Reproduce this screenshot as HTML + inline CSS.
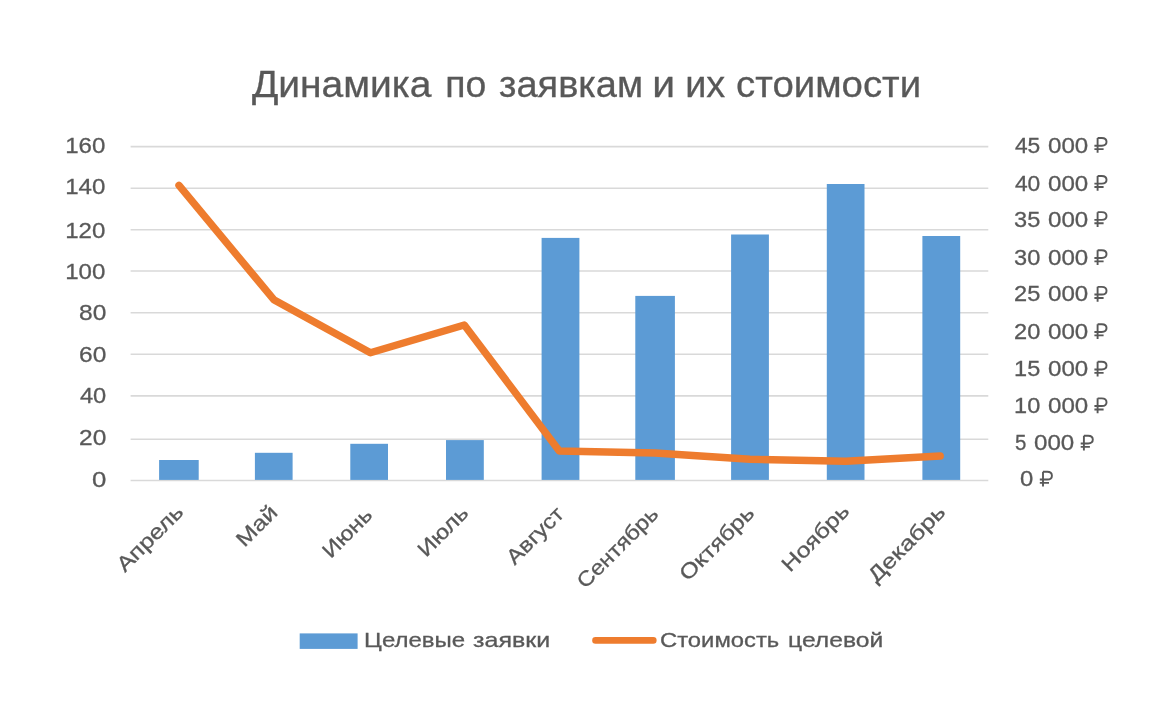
<!DOCTYPE html>
<html lang="ru"><head><meta charset="utf-8"><title>Динамика по заявкам и их стоимости</title>
<style>html,body{margin:0;padding:0;background:#fff}body{width:1176px;height:708px;overflow:hidden}svg{display:block}text{font-family:"Liberation Sans",sans-serif;fill:#595959;stroke:#595959;stroke-width:.3px;white-space:pre}</style></head><body>
<svg width="1176" height="708" viewBox="0 0 1176 708">
<defs><filter id="soft" x="0" y="0" width="1176" height="708" filterUnits="userSpaceOnUse"><feGaussianBlur stdDeviation="0.45"/></filter></defs>
<rect width="1176" height="708" fill="#fff"/>
<g filter="url(#soft)">
<g id="grid" stroke="#d9d9d9" stroke-width="1.6">
<line x1="130.6" y1="480.5" x2="988.3" y2="480.5"/>
<line x1="130.6" y1="439.2" x2="988.3" y2="439.2"/>
<line x1="130.6" y1="395.9" x2="988.3" y2="395.9"/>
<line x1="130.6" y1="354.2" x2="988.3" y2="354.2"/>
<line x1="130.6" y1="312.7" x2="988.3" y2="312.7"/>
<line x1="130.6" y1="271.0" x2="988.3" y2="271.0"/>
<line x1="130.6" y1="229.8" x2="988.3" y2="229.8"/>
<line x1="130.6" y1="188.3" x2="988.3" y2="188.3"/>
<line x1="130.6" y1="146.6" x2="988.3" y2="146.6"/>
</g>
<g id="bars" fill="#5b9bd5">
<rect x="159.1" y="460.0" width="39.6" height="19.9"/>
<rect x="254.9" y="452.8" width="37.7" height="27.1"/>
<rect x="350.3" y="443.8" width="37.7" height="36.1"/>
<rect x="446.0" y="440.1" width="37.8" height="39.8"/>
<rect x="541.6" y="237.9" width="37.8" height="242.0"/>
<rect x="635.3" y="295.9" width="39.6" height="184.0"/>
<rect x="731.1" y="234.5" width="37.8" height="245.4"/>
<rect x="826.8" y="184.0" width="37.7" height="295.9"/>
<rect x="922.4" y="236.0" width="37.8" height="243.9"/>
</g>
<polyline id="line" fill="none" stroke="#ee7c2e" stroke-width="7.4" stroke-linecap="round" stroke-linejoin="round" points="179,185.4 273.8,299.7 370.4,352.7 464.3,325 559.3,451 655,453 750,459.3 845.6,461.3 940.2,456"/>
<g id="labels">
<text x="251.91" y="96.90" font-size="36.6" textLength="179.45" lengthAdjust="spacingAndGlyphs">Динамика</text>
<text x="445.20" y="96.90" font-size="36.6" textLength="41.01" lengthAdjust="spacingAndGlyphs">по</text>
<text x="499.01" y="96.90" font-size="36.6" textLength="144.07" lengthAdjust="spacingAndGlyphs">заявкам</text>
<text x="652.26" y="96.90" font-size="36.6" textLength="22.79" lengthAdjust="spacingAndGlyphs">и</text>
<text x="685.23" y="96.90" font-size="36.6" textLength="40.06" lengthAdjust="spacingAndGlyphs">их</text>
<text x="736.09" y="96.90" font-size="36.6" textLength="185.01" lengthAdjust="spacingAndGlyphs">стоимости</text>
<text x="364.14" y="647.40" font-size="20.4" textLength="101.11" lengthAdjust="spacingAndGlyphs">Целевые</text>
<text x="473.04" y="647.40" font-size="20.4" textLength="77.13" lengthAdjust="spacingAndGlyphs">заявки</text>
<text x="660.01" y="647.30" font-size="20.4" textLength="119.27" lengthAdjust="spacingAndGlyphs">Стоимость</text>
<text x="788.07" y="647.30" font-size="20.4" textLength="95.18" lengthAdjust="spacingAndGlyphs">целевой</text>
<text x="91.94" y="486.95" font-size="22" textLength="14.36" lengthAdjust="spacingAndGlyphs">0</text>
<text x="79.02" y="445.35" font-size="22" textLength="27.26" lengthAdjust="spacingAndGlyphs">20</text>
<text x="79.92" y="403.40" font-size="22" textLength="26.36" lengthAdjust="spacingAndGlyphs">40</text>
<text x="79.02" y="361.95" font-size="22" textLength="27.26" lengthAdjust="spacingAndGlyphs">60</text>
<text x="79.02" y="320.45" font-size="22" textLength="27.26" lengthAdjust="spacingAndGlyphs">80</text>
<text x="65.15" y="278.95" font-size="22" textLength="40.15" lengthAdjust="spacingAndGlyphs">100</text>
<text x="65.15" y="237.70" font-size="22" textLength="40.15" lengthAdjust="spacingAndGlyphs">120</text>
<text x="65.15" y="194.05" font-size="22" textLength="40.15" lengthAdjust="spacingAndGlyphs">140</text>
<text x="65.15" y="152.70" font-size="22" textLength="40.15" lengthAdjust="spacingAndGlyphs">160</text>
<text x="1019.95" y="486.40" font-size="22" textLength="13.28" lengthAdjust="spacingAndGlyphs">0</text>
<text x="1014.90" y="450.35" font-size="22" textLength="11.36" lengthAdjust="spacingAndGlyphs">5</text>
<text x="1034.02" y="450.35" font-size="22" textLength="40.26" lengthAdjust="spacingAndGlyphs">000</text>
<text x="1014.12" y="412.95" font-size="22" textLength="26.16" lengthAdjust="spacingAndGlyphs">10</text>
<text x="1048.04" y="412.95" font-size="22" textLength="40.24" lengthAdjust="spacingAndGlyphs">000</text>
<text x="1014.12" y="376.35" font-size="22" textLength="26.16" lengthAdjust="spacingAndGlyphs">15</text>
<text x="1048.04" y="376.35" font-size="22" textLength="40.24" lengthAdjust="spacingAndGlyphs">000</text>
<text x="1014.02" y="338.85" font-size="22" textLength="26.26" lengthAdjust="spacingAndGlyphs">20</text>
<text x="1048.04" y="338.85" font-size="22" textLength="40.24" lengthAdjust="spacingAndGlyphs">000</text>
<text x="1014.02" y="301.45" font-size="22" textLength="26.26" lengthAdjust="spacingAndGlyphs">25</text>
<text x="1048.04" y="301.45" font-size="22" textLength="40.24" lengthAdjust="spacingAndGlyphs">000</text>
<text x="1014.02" y="264.85" font-size="22" textLength="26.26" lengthAdjust="spacingAndGlyphs">30</text>
<text x="1048.04" y="264.85" font-size="22" textLength="40.24" lengthAdjust="spacingAndGlyphs">000</text>
<text x="1014.02" y="226.75" font-size="22" textLength="26.26" lengthAdjust="spacingAndGlyphs">35</text>
<text x="1048.04" y="226.75" font-size="22" textLength="40.24" lengthAdjust="spacingAndGlyphs">000</text>
<text x="1014.92" y="190.55" font-size="22" textLength="25.36" lengthAdjust="spacingAndGlyphs">40</text>
<text x="1048.04" y="190.55" font-size="22" textLength="40.24" lengthAdjust="spacingAndGlyphs">000</text>
<text x="1014.92" y="152.60" font-size="22" textLength="25.36" lengthAdjust="spacingAndGlyphs">45</text>
<text x="1048.04" y="152.60" font-size="22" textLength="40.24" lengthAdjust="spacingAndGlyphs">000</text>
<path transform="translate(1039.80,470.90)" fill="none" stroke="#595959" stroke-width="1.9" d="M3.2 0.9V15.7M3.2 0.9H7.4C13.7 0.9 13.7 8.6 7.4 8.6H0M0 12H9.2"/>
<path transform="translate(1080.70,434.85)" fill="none" stroke="#595959" stroke-width="1.9" d="M3.2 0.9V15.7M3.2 0.9H7.4C13.7 0.9 13.7 8.6 7.4 8.6H0M0 12H9.2"/>
<path transform="translate(1094.40,397.45)" fill="none" stroke="#595959" stroke-width="1.9" d="M3.2 0.9V15.7M3.2 0.9H7.4C13.7 0.9 13.7 8.6 7.4 8.6H0M0 12H9.2"/>
<path transform="translate(1094.40,360.85)" fill="none" stroke="#595959" stroke-width="1.9" d="M3.2 0.9V15.7M3.2 0.9H7.4C13.7 0.9 13.7 8.6 7.4 8.6H0M0 12H9.2"/>
<path transform="translate(1094.40,323.35)" fill="none" stroke="#595959" stroke-width="1.9" d="M3.2 0.9V15.7M3.2 0.9H7.4C13.7 0.9 13.7 8.6 7.4 8.6H0M0 12H9.2"/>
<path transform="translate(1094.40,285.95)" fill="none" stroke="#595959" stroke-width="1.9" d="M3.2 0.9V15.7M3.2 0.9H7.4C13.7 0.9 13.7 8.6 7.4 8.6H0M0 12H9.2"/>
<path transform="translate(1094.40,249.35)" fill="none" stroke="#595959" stroke-width="1.9" d="M3.2 0.9V15.7M3.2 0.9H7.4C13.7 0.9 13.7 8.6 7.4 8.6H0M0 12H9.2"/>
<path transform="translate(1094.40,211.25)" fill="none" stroke="#595959" stroke-width="1.9" d="M3.2 0.9V15.7M3.2 0.9H7.4C13.7 0.9 13.7 8.6 7.4 8.6H0M0 12H9.2"/>
<path transform="translate(1094.40,175.05)" fill="none" stroke="#595959" stroke-width="1.9" d="M3.2 0.9V15.7M3.2 0.9H7.4C13.7 0.9 13.7 8.6 7.4 8.6H0M0 12H9.2"/>
<path transform="translate(1094.40,137.10)" fill="none" stroke="#595959" stroke-width="1.9" d="M3.2 0.9V15.7M3.2 0.9H7.4C13.7 0.9 13.7 8.6 7.4 8.6H0M0 12H9.2"/>
<text transform="translate(184.56,513.44) rotate(-45)" text-anchor="end" font-size="21" textLength="84.40" lengthAdjust="spacingAndGlyphs">Апрель</text>
<text transform="translate(278.76,513.70) rotate(-45)" text-anchor="end" font-size="21" textLength="48.57" lengthAdjust="spacingAndGlyphs">Май</text>
<text transform="translate(373.68,516.28) rotate(-45)" text-anchor="end" font-size="21" textLength="60.79" lengthAdjust="spacingAndGlyphs">Июнь</text>
<text transform="translate(469.66,514.30) rotate(-45)" text-anchor="end" font-size="21" textLength="61.83" lengthAdjust="spacingAndGlyphs">Июль</text>
<text transform="translate(565.26,515.26) rotate(-45)" text-anchor="end" font-size="21" textLength="71.31" lengthAdjust="spacingAndGlyphs">Август</text>
<text transform="translate(659.68,515.26) rotate(-45)" text-anchor="end" font-size="21" textLength="105.14" lengthAdjust="spacingAndGlyphs">Сентябрь</text>
<text transform="translate(755.50,514.30) rotate(-45)" text-anchor="end" font-size="21" textLength="95.89" lengthAdjust="spacingAndGlyphs">Октябрь</text>
<text transform="translate(850.64,512.44) rotate(-45)" text-anchor="end" font-size="21" textLength="85.76" lengthAdjust="spacingAndGlyphs">Ноябрь</text>
<text transform="translate(946.56,513.40) rotate(-45)" text-anchor="end" font-size="21" textLength="99.37" lengthAdjust="spacingAndGlyphs">Декабрь</text>
</g>
<rect x="299.7" y="633.4" width="57.9" height="15.5" fill="#5b9bd5"/>
<line x1="595.5" y1="640.4" x2="653.3" y2="640.4" stroke="#ee7c2e" stroke-width="6.6" stroke-linecap="round"/>
</g>
</svg></body></html>
